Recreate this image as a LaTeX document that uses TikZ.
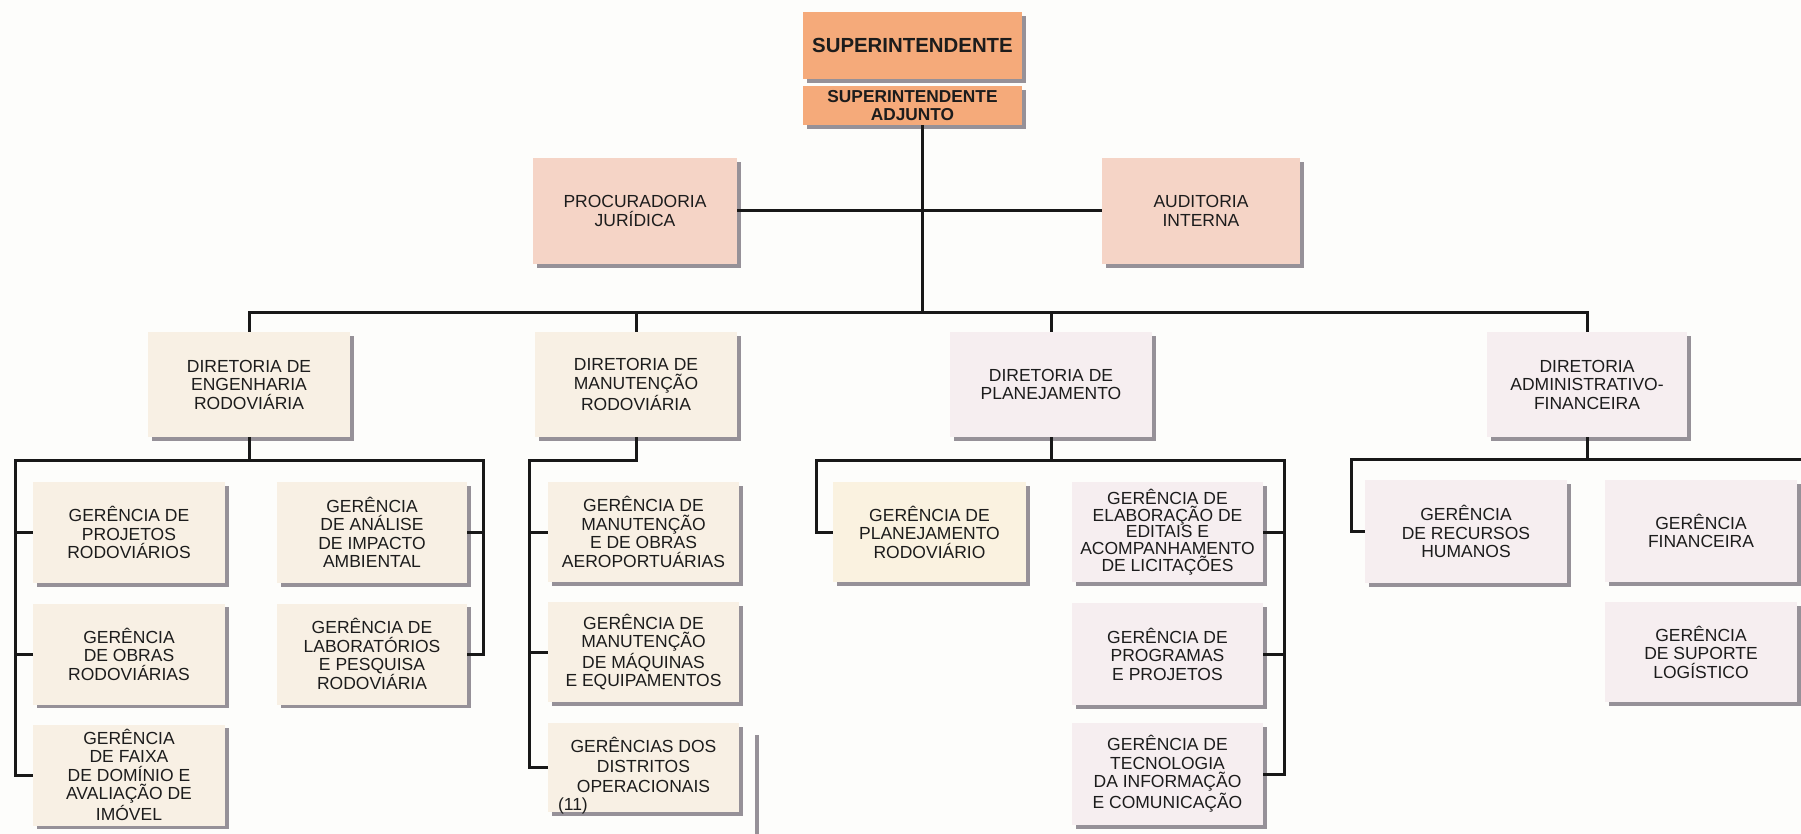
\documentclass[tikz,border=0pt]{standalone}
\usepackage{fontspec}
\setmainfont{Liberation Sans}
\usetikzlibrary{shadows}
\definecolor{bgC}{RGB}{253,253,251}
\definecolor{orangeC}{RGB}{245,170,122}
\definecolor{salmonC}{RGB}{245,212,198}
\definecolor{creamC}{RGB}{248,240,228}
\definecolor{lavC}{RGB}{246,238,240}
\definecolor{yelC}{RGB}{250,242,224}
\definecolor{shadowC}{RGB}{150,145,152}
\definecolor{lineC}{RGB}{24,24,24}
\definecolor{txtC}{RGB}{28,28,28}
\begin{document}
\begin{tikzpicture}[x=0.5pt,y=-0.5pt,
  orgbox/.style={fill=#1, text=txtC, align=center, inner sep=0pt,
    drop shadow={shadow xshift=1.8pt, shadow yshift=-1.8pt, fill=shadowC, opacity=1}},
  sz/.style 2 args={minimum width=#1*0.5pt, minimum height=#2*0.5pt},
  fnt/.style={font=\fontsize{8.75}{9.25}\selectfont},
  conn/.style={draw=lineC, line width=1.5pt}]
\useasboundingbox (0,0) rectangle (1801,834);
\clip (0,0) rectangle (1801,834);
\fill[bgC] (0,0) rectangle (1801,834);

% top
\node[orgbox=orangeC, sz={219}{67}, font=\fontsize{10.2}{12}\selectfont\bfseries] (sup) at (912.5,45.5) {SUPERINTENDENTE};
\node[orgbox=orangeC, sz={219}{39}, font=\fontsize{8.65}{9}\selectfont\bfseries] (adj) at (912.5,105.5) {SUPERINTENDENTE\\ADJUNTO};
\node[orgbox=salmonC, sz={204}{106}, fnt] (proc) at (635,211) {PROCURADORIA\\JURÍDICA};
\node[orgbox=salmonC, sz={198}{106}, fnt] (aud) at (1201,211) {AUDITORIA\\INTERNA};

% directorates
\node[orgbox=creamC, sz={202}{105}, fnt] (eng) at (249,384.5) {DIRETORIA DE\\ENGENHARIA\\RODOVIÁRIA};
\node[orgbox=creamC, sz={202}{105}, fnt] (man) at (636,384.5) {DIRETORIA DE\\MANUTENÇÃO\\RODOVIÁRIA};
\node[orgbox=lavC, sz={202}{105}, fnt] (pla) at (1051,384.5) {DIRETORIA DE\\PLANEJAMENTO};
\node[orgbox=lavC, sz={200}{105}, fnt] (adm) at (1587,384.5) {DIRETORIA\\ADMINISTRATIVO-\\FINANCEIRA};

% engenharia subs
\node[orgbox=creamC, sz={192}{101}, fnt] (e1) at (129,532.5) {GERÊNCIA DE\\PROJETOS\\RODOVIÁRIOS};
\node[orgbox=creamC, sz={192}{101}, fnt] (e2) at (129,654) {GERÊNCIA\\DE OBRAS\\RODOVIÁRIAS};
\node[orgbox=creamC, sz={192}{101}, fnt] (e3) at (129,775) {GERÊNCIA\\DE FAIXA\\DE DOMÍNIO E\\AVALIAÇÃO DE\\IMÓVEL};
\node[orgbox=creamC, sz={190}{101}, fnt] (e4) at (372,532.5) {GERÊNCIA\\DE ANÁLISE\\DE IMPACTO\\AMBIENTAL};
\node[orgbox=creamC, sz={190}{101}, fnt] (e5) at (372,654) {GERÊNCIA DE\\LABORATÓRIOS\\E PESQUISA\\RODOVIÁRIA};

% manutencao subs
\draw[shadowC, line width=1.8pt] (757,735) -- (757,840);
\node[orgbox=creamC, sz={191}{100}, fnt] (m1) at (643.5,532) {GERÊNCIA DE\\MANUTENÇÃO\\E DE OBRAS\\AEROPORTUÁRIAS};
\node[orgbox=creamC, sz={191}{100}, fnt] (m2) at (643.5,652) {GERÊNCIA DE\\MANUTENÇÃO\\DE MÁQUINAS\\E EQUIPAMENTOS};
\node[orgbox=creamC, sz={191}{89}] (m3) at (643.5,767.5) {};
\node[inner sep=0pt, align=center, text=txtC, font=\fontsize{8.75}{10}\selectfont] (m3t) at (643.5,765) {GERÊNCIAS DOS\\DISTRITOS\\OPERACIONAIS};
\node[anchor=base west, inner sep=0pt, fnt, text=txtC] (m3n) at ([shift={(10,-2)}]m3.south west) {(11)};

% planejamento subs
\node[orgbox=yelC, sz={193}{100}, fnt] (p1) at (929.5,532) {GERÊNCIA DE\\PLANEJAMENTO\\RODOVIÁRIO};
\node[orgbox=lavC, sz={191}{100}, font=\fontsize{8.75}{8.35}\selectfont] (p2) at (1167.5,532) {GERÊNCIA DE\\ELABORAÇÃO DE\\EDITAIS E\\ACOMPANHAMENTO\\DE LICITAÇÕES};
\node[orgbox=lavC, sz={191}{102}, fnt] (p3) at (1167.5,654) {GERÊNCIA DE\\PROGRAMAS\\E PROJETOS};
\node[orgbox=lavC, sz={191}{102}, fnt] (p4) at (1167.5,774) {GERÊNCIA DE\\TECNOLOGIA\\DA INFORMAÇÃO\\E COMUNICAÇÃO};

% administrativo subs
\node[orgbox=lavC, sz={202}{103}, fnt] (a1) at (1466,531.5) {GERÊNCIA\\DE RECURSOS\\HUMANOS};
\node[orgbox=lavC, sz={192}{102}, fnt] (a2) at (1701,531) {GERÊNCIA\\FINANCEIRA};
\node[orgbox=lavC, sz={192}{100}, fnt] (a3) at (1701,652) {GERÊNCIA\\DE SUPORTE\\LOGÍSTICO};

% connectors: top
\coordinate (trunk) at (922,313);
\draw[conn] (adj.south -| trunk) -- (trunk);
\draw[conn] (proc.east) -- (aud.west);
\draw[conn] (eng.north) |- (trunk) -| (adm.north);
\draw[conn] (man.north) -- (man.north |- trunk);
\draw[conn] (pla.north) -- (pla.north |- trunk);

% engenharia
\coordinate (engL) at (15,461);
\coordinate (engR) at (483,461);
\draw[conn] (eng.south) -- (eng.south |- engL);
\draw[conn] (e3.west) -| (engL) -- (engR) |- (e5.east);
\draw[conn] (engL |- e1.west) -- (e1.west);
\draw[conn] (engL |- e2.west) -- (e2.west);
\draw[conn] (engR |- e4.east) -- (e4.east);

% manutencao
\coordinate (manL) at (529,461);
\draw[conn] (man.south) |- (manL) |- (m3.west);
\draw[conn] (manL |- m1.west) -- (m1.west);
\draw[conn] (manL |- m2.west) -- (m2.west);

% planejamento
\coordinate (plaL) at (816,461);
\coordinate (plaR) at (1284,461);
\draw[conn] (pla.south) -- (pla.south |- plaL);
\draw[conn] (p1.west) -| (plaL) -- (plaR) |- (p4.east);
\draw[conn] (plaR |- p2.east) -- (p2.east);
\draw[conn] (plaR |- p3.east) -- (p3.east);

% administrativo
\coordinate (admL) at (1351,460);
\coordinate (admR) at (1830,460);
\draw[conn] (adm.south) -- (adm.south |- admL);
\draw[conn] (a1.west) -| (admL) -- (admR);
\end{tikzpicture}
\end{document}
